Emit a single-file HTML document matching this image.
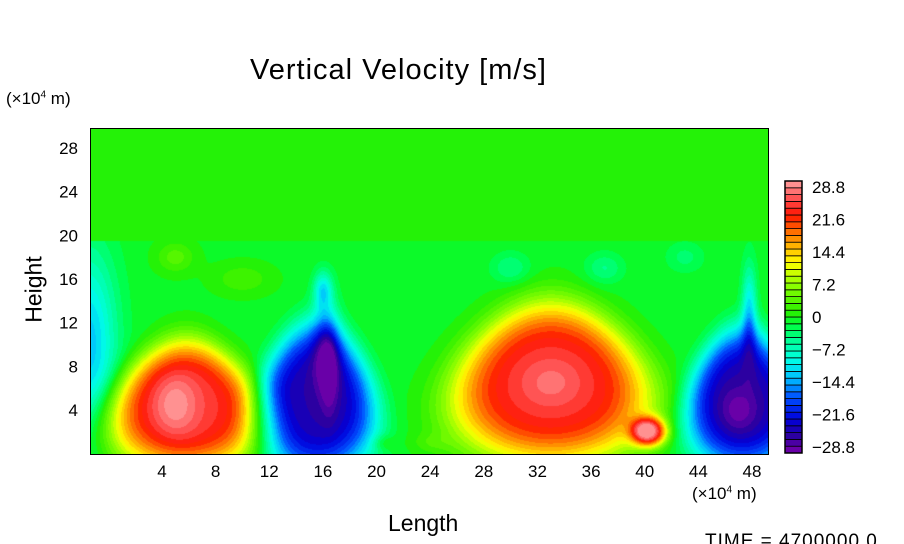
<!DOCTYPE html>
<html><head><meta charset="utf-8">
<style>
html,body{margin:0;padding:0;background:#fff;}
#wrap{position:relative;width:904px;height:544px;overflow:hidden;font-family:"Liberation Sans",sans-serif;color:#000;}
.t{position:absolute;white-space:nowrap;}
</style></head>
<body>
<div id="wrap">
<div class="t" style="left:250px;top:54px;font-size:29px;letter-spacing:1px;">Vertical Velocity [m/s]</div>
<div class="t" style="left:6px;top:89px;font-size:17px;">(×10<sup style="font-size:10px">4</sup> m)</div>
<div class="t" style="left:692px;top:484px;font-size:17px;">(×10<sup style="font-size:10px">4</sup> m)</div>
<div class="t" style="left:-4px;top:276px;font-size:23px;transform:rotate(-90deg);transform-origin:center;width:76px;text-align:center;">Height</div>
<div class="t" style="left:388px;top:510px;font-size:23px;">Length</div>
<div class="t" style="left:705px;top:531px;font-size:19px;letter-spacing:1px;">TIME = 4700000.0</div>
<canvas id="cv" width="678" height="326" style="position:absolute;left:90px;top:128px;"></canvas>
<svg id="sv" width="904" height="544" style="position:absolute;left:0;top:0;"></svg>
</div>
<script>
// data arrays
const xTicks=[4,8,12,16,20,24,28,32,36,40,44,48];
const yTicks=[4,8,12,16,20,24,28];
const cbLabels=[28.8,21.6,14.4,7.2,0,-7.2,-14.4,-21.6,-28.8];
// blobs: center x, center y, amplitude, sigma x, sigma y, shape power, upward taper
const blobX=[5.8,5,15.5,16.3,16.5,33,33,40.3,47.3,47,47.8,-1.5,5,16,30,37,43,10,24,20.5];
const blobY=[4.5,4.5,5,10,7,6.5,6.5,2,5,4,13,10,18,15,17,17,18,16,1,1];
const blobA=[24,5,-24,-9,-3,24,3,24,-24,-4,-10,-12,4,-9,-4,-4,-3,3,2,3];
const blobSX=[4.8,1.2,3.7,0.7,0.4,6.2,1.5,1,3.5,1,0.4,1.5,1,0.5,1,1,1,1.5,1,0.6];
const blobSY=[5.1,2,5.9,3,2.5,6.3,1.5,1,5.5,1.5,3,6,1,1.2,1,1,1,1,0.6,0.5];
const blobP=[4,2,4,2,2,4,2,2.5,4,2,2,2,2,2,2,2,2,2,2,2];
const blobTaper=[0.25,0,0.2,0,0,0.2,0,0,0.2,0,0,0,0,0,0,0,0,0,0,0];
const levMin=-28.8, levMax=28.8, nLev=40;

const L=90,R=768,T=128,B=454;
const xs=v=>162+(v-4)*(752-162)/44;
const ys=v=>410-(v-4)*(410-148)/24;
const xinv=p=>4+(p-162)*44/(752-162);
const yinv=p=>4-(p-410)*24/(410-148);

const stops=[[-28.8,[120,0,170]],[-25,[40,0,160]],[-21.6,[0,0,220]],[-17,[0,80,255]],[-13,[0,190,255]],[-9,[0,255,230]],[-5,[0,255,150]],[-1.5,[0,255,60]],[1,[40,240,0]],[7.2,[150,255,0]],[11.5,[255,255,0]],[15,[255,180,0]],[18.5,[255,100,0]],[21.6,[255,20,0]],[25,[255,80,80]],[28.8,[255,160,160]]];
function col(v){
  if(v<=stops[0][0])return stops[0][1];
  for(let i=1;i<stops.length;i++){if(v<=stops[i][0]){const a=stops[i-1],b=stops[i];const t=(v-a[0])/(b[0]-a[0]);return a[1].map((c,k)=>Math.round(c+(b[1][k]-c)*t));}}
  return stops[stops.length-1][1];
}
function field(x,y){
  let v=-0.4;
  for(let i=0;i<blobX.length;i++){
    const dy=(y-blobY[i])/blobSY[i];
    const sx=blobSX[i]*Math.max(0.3,1-blobTaper[i]*dy);
    const dx=(x-blobX[i])/sx;
    const r=Math.sqrt(dx*dx+dy*dy);
    v+=blobA[i]*Math.exp(-0.5*Math.pow(r,blobP[i]));
  }
  if(y>19.5)v=1.2;
  return v;
}
const step=(levMax-levMin)/nLev;
const ctx=document.getElementById('cv').getContext('2d');
const img=ctx.createImageData(678,326);
for(let py=0;py<326;py++)for(let px=0;px<678;px++){
  let v=field(xinv(px+L+0.5),yinv(py+T+0.5));
  let q=Math.floor((v-levMin)/step);q=Math.max(0,Math.min(nLev-1,q));
  const c=col(levMin+(q+0.5)*step);const o=(py*678+px)*4;
  img.data[o]=c[0];img.data[o+1]=c[1];img.data[o+2]=c[2];img.data[o+3]=255;
}
ctx.putImageData(img,0,0);

const svg=document.getElementById('sv');const NS='http://www.w3.org/2000/svg';
function mk(tag,at,txt){const e=document.createElementNS(NS,tag);for(const k in at)e.setAttribute(k,at[k]);if(txt!==undefined)e.textContent=txt;svg.appendChild(e);return e;}
const fr=mk('rect',{x:L+0.5,y:T+0.5,width:R-L,height:B-T,fill:'none',stroke:'#000','stroke-width':1});


xTicks.forEach(v=>{const t=mk('text',{x:xs(v),y:477,'text-anchor':'middle','font-size':17,'font-family':'Liberation Sans, sans-serif'},String(v));

});
yTicks.forEach(v=>{const t=mk('text',{x:78,y:ys(v)+6,'text-anchor':'end','font-size':17,'font-family':'Liberation Sans, sans-serif'},String(v));

});
// colorbar
const cbT=181,cbB=453,cbL=785,cbW=17,bh=(cbB-cbT)/nLev;
for(let i=0;i<nLev;i++){
  const c=col(levMin+(i+0.5)*step);
  const r=mk('rect',{x:cbL,y:cbB-(i+1)*bh,width:cbW,height:bh,fill:`rgb(${c[0]},${c[1]},${c[2]})`,stroke:'#000','stroke-width':0.8});
  
  
}
const cb=mk('rect',{x:cbL,y:cbT,width:cbW,height:cbB-cbT,fill:'none',stroke:'#000','stroke-width':1.5});


cbLabels.forEach(v=>{const y=cbB-(v-levMin)/(levMax-levMin)*(cbB-cbT-12)-6;
const t=mk('text',{x:812,y:y+6,'font-size':17,'font-family':'Liberation Sans, sans-serif'},(v<0?'\u2212'+(-v):String(v)));

});
</script>
</body></html>
